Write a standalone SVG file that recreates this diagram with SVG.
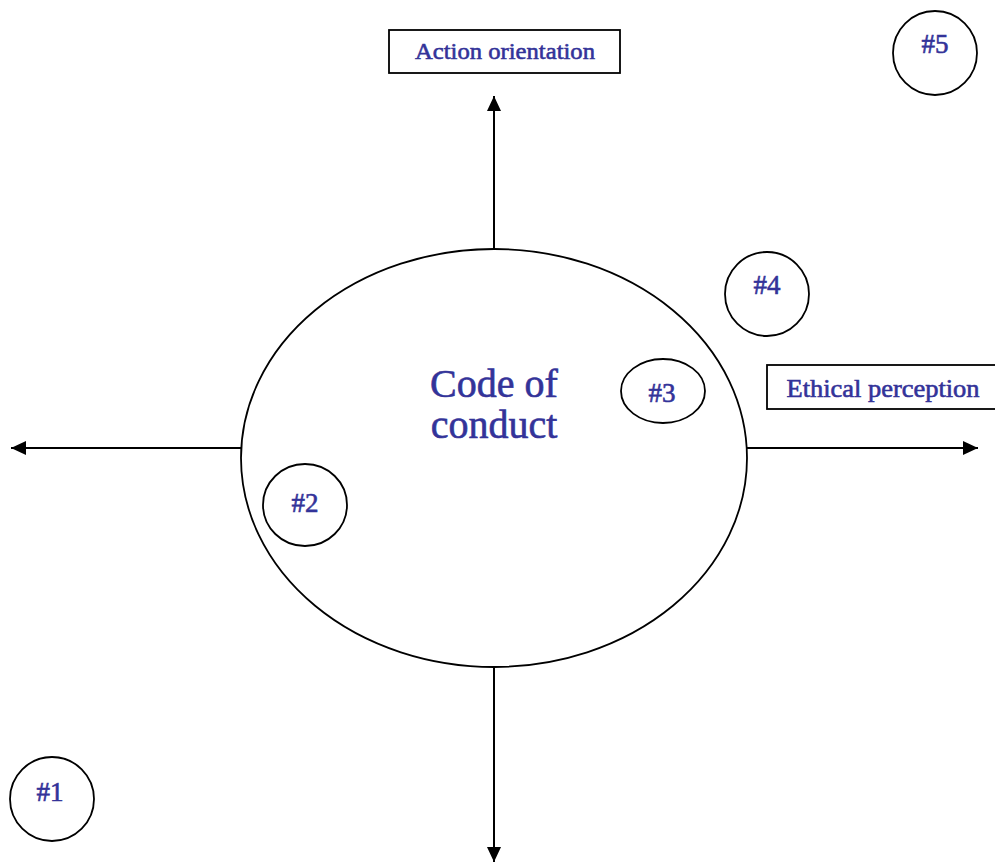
<svg xmlns="http://www.w3.org/2000/svg" width="995" height="865" viewBox="0 0 995 865">
<defs>
<style>
.t{font-family:"Liberation Serif","Times New Roman",serif;fill:#333399;stroke:#333399;stroke-width:0.6;text-anchor:middle}
.s{fill:#fff;stroke:#000;stroke-width:1.8}
.c{stroke:#000;stroke-width:2;fill:none}
</style>
<marker id="ah" markerUnits="userSpaceOnUse" markerWidth="16" markerHeight="16" viewBox="0 0 16 16" refX="15" refY="8" orient="auto">
<path d="M0,1 L15,8 L0,15 Z" fill="#000"/>
</marker>
</defs>
<rect width="995" height="865" fill="#fff"/>
<g id="connectors">
<line class="c" x1="494" y1="249" x2="494" y2="96" marker-end="url(#ah)"/>
<line class="c" x1="494" y1="667" x2="494" y2="862" marker-end="url(#ah)"/>
<line class="c" x1="241" y1="448" x2="11" y2="448" marker-end="url(#ah)"/>
<line class="c" x1="747" y1="448" x2="978" y2="448" marker-end="url(#ah)"/>
</g>
<g id="code-of-conduct">
<ellipse class="s" cx="494" cy="458" rx="253" ry="209"/>
<text class="t" x="494" y="397" font-size="40" stroke-width="0.9">Code of</text>
<text class="t" x="494" y="438" font-size="40" stroke-width="0.9">conduct</text>
</g>
<g id="action-orientation">
<rect class="s" x="389" y="30" width="231" height="43" stroke-width="2"/>
<text class="t" x="505" y="59" font-size="24" textLength="180" lengthAdjust="spacingAndGlyphs">Action orientation</text>
</g>
<g id="ethical-perception">
<rect class="s" x="767" y="365" width="240" height="44" stroke-width="2"/>
<text class="t" x="883" y="397" font-size="25" textLength="193" lengthAdjust="spacingAndGlyphs">Ethical perception</text>
</g>
<g id="n5">
<circle class="s" cx="935" cy="53" r="42"/>
<text class="t" x="935" y="53" font-size="27">#5</text>
</g>
<g id="n4">
<ellipse class="s" cx="767" cy="294" rx="42" ry="42"/>
<text class="t" x="767" y="294" font-size="27">#4</text>
</g>
<g id="n3">
<ellipse class="s" cx="663" cy="391" rx="42" ry="32"/>
<text class="t" x="662" y="402" font-size="27">#3</text>
</g>
<g id="n2">
<ellipse class="s" cx="305" cy="505" rx="42" ry="41"/>
<text class="t" x="305" y="512" font-size="27">#2</text>
</g>
<g id="n1">
<circle class="s" cx="52" cy="799" r="42"/>
<text class="t" x="50" y="801" font-size="27">#1</text>
</g>
</svg>
